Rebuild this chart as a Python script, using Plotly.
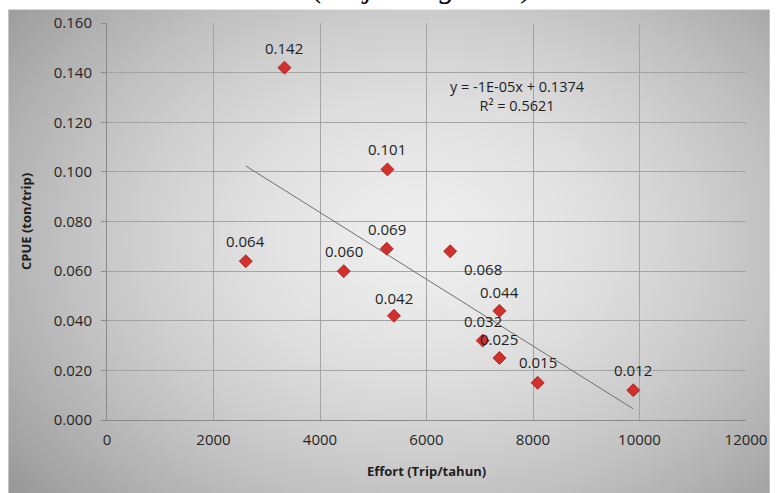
import base64, struct, zlib
import numpy as np
import plotly.graph_objects as go

# ---- data ----
effort = [3333, 2606, 5266, 5254, 4446, 6445, 5389, 7370, 7056, 7370, 8087, 9883]
cpue = [0.142, 0.064, 0.101, 0.069, 0.060, 0.068, 0.042, 0.044, 0.032, 0.025, 0.015, 0.012]
x_ticks = [0, 2000, 4000, 6000, 8000, 10000, 12000]
y_ticks = [0.000, 0.020, 0.040, 0.060, 0.080, 0.100, 0.120, 0.140, 0.160]
equation_text = "y = -1E-05x + 0.1374<br>R² = 0.5621"
title_text = "(Lutjanus gibbus)"

# label offsets (pixels) - style only
label_dx = [0, 0, 0, 0, 0, 33, 0, 0, 0, 0, 0, 0]
label_dy = [20, 20, 20, 20, 20, -18, 18, 19, 20, 19, 21, 20]

# ---- background radial gradient as PNG ----
W, H = 386, 243
yy, xx = np.mgrid[0:H, 0:W].astype(float)
cx, cy = 0.54 * W, 0.47 * H
t = np.sqrt(((xx - cx) / (0.66 * W)) ** 2 + ((yy - cy) / (0.78 * H)) ** 2)
t = np.clip(t, 0, 1.2)
val = 238 - (238 - 160) * t ** 1.6
img = np.clip(val, 0, 255).astype(np.uint8)
raw = b"".join(b"\x00" + img[r].tobytes() for r in range(H))
def chunk(tag, data):
    return struct.pack(">I", len(data)) + tag + data + struct.pack(">I", zlib.crc32(tag + data) & 0xffffffff)
png = b"\x89PNG\r\n\x1a\n" + chunk(b"IHDR", struct.pack(">IIBBBBB", W, H, 8, 0, 0, 0, 0)) \
    + chunk(b"IDAT", zlib.compress(raw, 9)) + chunk(b"IEND", b"")
bg_uri = "data:image/png;base64," + base64.b64encode(png).decode()

# ---- trend line ----
slope, intercept = np.polyfit(effort, cpue, 1)
tx = np.array([min(effort), max(effort)])
ty = slope * tx + intercept

fig = go.Figure()
fig.add_trace(go.Scatter(x=tx, y=ty, mode="lines",
                         line=dict(color="#6e6e6e", width=1), hoverinfo="skip", showlegend=False))
fig.add_trace(go.Scatter(x=effort, y=cpue, mode="markers",
                         marker=dict(symbol="diamond", size=10, color="#d2302c",
                                     line=dict(color="#a01c1c", width=0.8)),
                         showlegend=False))

annotations = []
for xv, yv, dx, dy in zip(effort, cpue, label_dx, label_dy):
    annotations.append(dict(x=xv, y=yv, xref="x", yref="y", text=f"{yv:.3f}",
                            showarrow=False, xshift=dx, yshift=dy,
                            font=dict(family="Open Sans", size=15, color="#1e1e1e")))
annotations.append(dict(x=7717, y=0.1306, xref="x", yref="y", text=equation_text, showarrow=False,
                        xanchor="center", yanchor="middle", align="center",
                        font=dict(family="Open Sans", size=14.5, color="#1e1e1e")))
annotations.append(dict(x=0.495, y=1.043, xref="paper", yref="paper", text="<i>" + title_text + "</i>",
                        showarrow=False, xanchor="center", yanchor="bottom",
                        font=dict(family="Liberation Serif", size=31, color="#000000")))

axis_font = dict(family="Open Sans", size=15, color="#262626")
fig.update_layout(
    width=779, height=493,
    margin=dict(l=107, r=24, t=21.5, b=72.5),
    paper_bgcolor="white",
    plot_bgcolor="rgba(0,0,0,0)",
    images=[dict(source=bg_uri, xref="paper", yref="paper", x=-0.1543, y=1.0338,
                 sizex=1.1914, sizey=1.2193, sizing="stretch", xanchor="left", yanchor="top",
                 layer="below")],
    annotations=annotations,
    xaxis=dict(range=[0, 12000], tickvals=x_ticks, ticktext=[str(v) for v in x_ticks],
               showgrid=True, gridcolor="#a4a4a4", gridwidth=1, zeroline=False,
               showline=True, linecolor="#8a8a8a", linewidth=1, ticks="",
               tickfont=axis_font, ticklabelstandoff=6,
               title=dict(text="<b>Effort (Trip/tahun)</b>", standoff=18,
                          font=dict(family="Open Sans", size=13, color="#1e1e1e"))),
    yaxis=dict(range=[0, 0.16], tickvals=y_ticks, ticktext=[f"{v:.3f}" for v in y_ticks],
               showgrid=True, gridcolor="#a4a4a4", gridwidth=1, zeroline=False,
               showline=True, linecolor="#8a8a8a", linewidth=1, ticks="outside", ticklen=5,
               tickcolor="#8a8a8a", tickfont=axis_font, ticklabelstandoff=6,
               title=dict(text="<b>CPUE (ton/trip)</b>", standoff=19,
                          font=dict(family="Open Sans", size=13, color="#1e1e1e"))),
)
fig.write_html("out.html", config={"displayModeBar": False},
               post_script="document.body.style.margin='0';")
